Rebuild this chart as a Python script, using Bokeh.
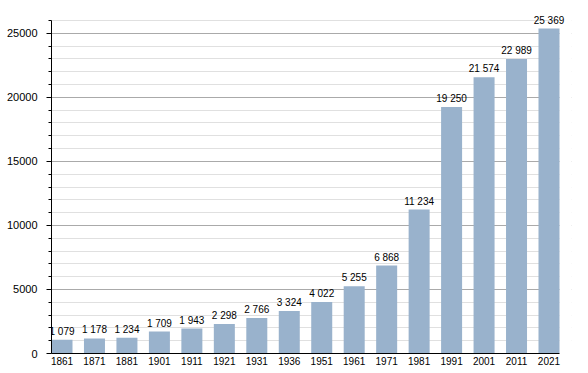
from bokeh.plotting import figure
from bokeh.models import Range1d, FixedTicker, ColumnDataSource, LabelSet
from bokeh.core.properties import value
from bokeh.embed import file_html
from bokeh.resources import INLINE

years = ["1861", "1871", "1881", "1901", "1911", "1921", "1931", "1936",
         "1951", "1961", "1971", "1981", "1991", "2001", "2011", "2021"]
population = [1079, 1178, 1234, 1709, 1943, 2298, 2766, 3324,
              4022, 5255, 6868, 11234, 19250, 21574, 22989, 25369]
y_major = [0, 5000, 10000, 15000, 20000, 25000]
y_top = 26000

idx = list(range(len(years)))
labels = ["{:,}".format(v).replace(",", " ") for v in population]
src = ColumnDataSource(dict(x=idx, top=population, label=labels))

FONT = "Liberation Sans"
bw = 0.647
frame_h = 346
axis_h = 333
frame_w = 520
axis_w = 508

x_start = -bw / 2
x_axis_end = len(years) - 1 + bw / 2
x_end = x_start + (x_axis_end - x_start) * frame_w / axis_w
y_end = y_top * frame_h / axis_h

p = figure(width=580, height=372, output_backend="svg", toolbar_location=None,
           x_range=Range1d(x_start, x_end),
           y_range=Range1d(0, y_end),
           min_border_left=51, min_border_right=9, min_border_top=7, min_border_bottom=19)
p.outline_line_color = None
p.background_fill_color = "white"

# white mask over the spare strip right of the axis end (hides grid lines there)
p.quad(left=[x_axis_end], right=[x_end], bottom=[0], top=[y_end],
       color="white", line_color=None)

p.vbar(x="x", top="top", width=bw, source=src, color="#99B2CC", line_color=None)
p.add_layout(LabelSet(x="x", y="top", text="label", source=src, text_align="center",
                      text_baseline="bottom", y_offset=3, text_font=value(FONT),
                      text_font_size=value("10px"), text_color="black"))

# y axis
minor = [v for v in range(0, y_top + 1, 1000) if v not in y_major]
p.yaxis.ticker = FixedTicker(ticks=y_major, minor_ticks=minor)
p.yaxis.bounds = (0, y_top)
p.yaxis.major_tick_out = 5
p.yaxis.major_tick_in = 0
p.yaxis.minor_tick_out = 3
p.yaxis.minor_tick_in = 0
p.yaxis.major_label_standoff = 9
p.yaxis.axis_line_color = "black"
p.yaxis.major_tick_line_color = "black"
p.yaxis.minor_tick_line_color = "black"
p.yaxis.major_label_text_font = FONT
p.yaxis.major_label_text_font_size = "11px"
p.yaxis.major_label_text_color = "black"
p.yaxis.formatter.use_scientific = False

# x axis
p.xaxis.ticker = FixedTicker(ticks=idx)
p.xaxis.bounds = (x_start, x_axis_end)
p.xaxis.major_label_overrides = {i: y for i, y in enumerate(years)}
p.xaxis.major_tick_line_color = None
p.xaxis.minor_tick_line_color = None
p.xaxis.major_tick_out = 0
p.xaxis.major_tick_in = 0
p.xaxis.major_label_standoff = 3
p.xaxis.axis_line_color = "black"
p.xaxis.major_label_text_font = FONT
p.xaxis.major_label_text_font_size = "10px"
p.xaxis.major_label_text_color = "black"

# grids
p.xgrid.grid_line_color = None
p.ygrid.grid_line_color = "#AAAAAA"
p.ygrid.minor_grid_line_color = "#E0E0E0"

open("out.html", "w").write(file_html(p, INLINE))
